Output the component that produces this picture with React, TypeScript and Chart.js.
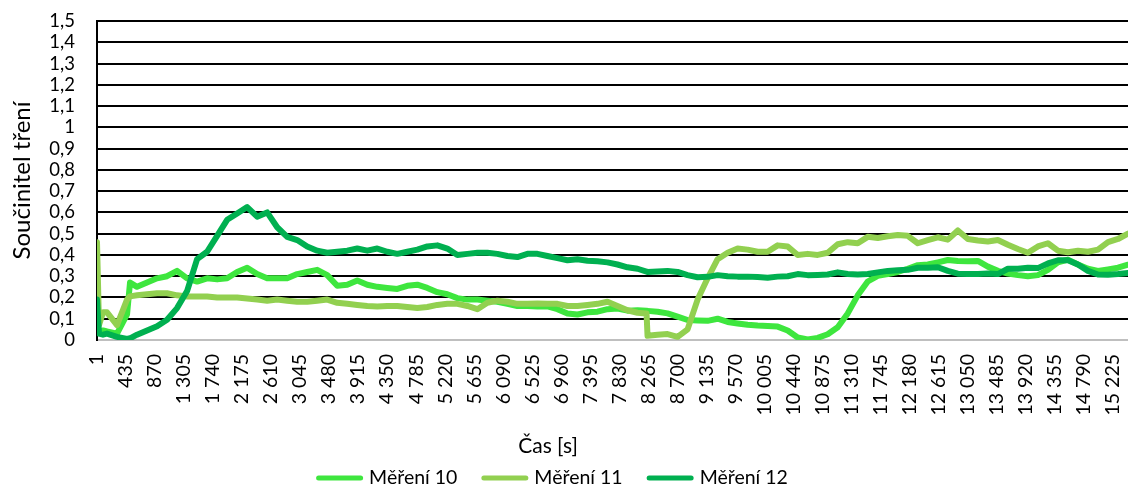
import React, { useEffect, useRef } from 'react';
import { Chart, registerables } from 'chart.js';

Chart.register(...registerables);

// ---- data ----
const timeSeconds = [
  1, 31, 91, 151, 301, 451, 496, 601, 751, 901, 1051, 1201, 1351, 1501, 1651, 1801, 1951, 2101, 2251, 2401,
  2551, 2701, 2851, 3001, 3151, 3301, 3451, 3601, 3751, 3901, 4051, 4201, 4351, 4501, 4651, 4801, 4951, 5101,
  5251, 5401, 5551, 5701, 5851, 6001, 6151, 6301, 6451, 6601, 6751, 6901, 7051, 7201, 7351, 7501, 7651, 7801,
  7951, 8101, 8236, 8251, 8401, 8551, 8701, 8851, 9001, 9151, 9301, 9451, 9601, 9751, 9901, 10051, 10201,
  10351, 10501, 10651, 10801, 10951, 11101, 11251, 11401, 11551, 11701, 11851, 12001, 12151, 12301, 12451,
  12601, 12751, 12901, 13051, 13201, 13351, 13501, 13651, 13801, 13951, 14101, 14251, 14401, 14551, 14701,
  14851, 15001, 15151, 15301, 15451,
];

const mereni10 = [
  0.04, 0.04, 0.045, 0.04, 0.03, 0.12, 0.27, 0.25, 0.27, 0.29, 0.30, 0.325, 0.29, 0.275, 0.29, 0.285, 0.29, 0.32,
  0.34, 0.31, 0.29, 0.29, 0.29, 0.31, 0.32, 0.33, 0.305, 0.255, 0.26, 0.28, 0.26, 0.25, 0.245, 0.24, 0.255, 0.26,
  0.245, 0.225, 0.215, 0.197, 0.19, 0.19, 0.185, 0.18, 0.17, 0.16, 0.16, 0.158, 0.158, 0.145, 0.125, 0.12, 0.13,
  0.133, 0.145, 0.148, 0.138, 0.14, 0.137, 0.137, 0.133, 0.125, 0.11, 0.094, 0.092, 0.09, 0.1, 0.085, 0.078,
  0.072, 0.068, 0.066, 0.063, 0.045, 0.012, 0.003, 0.01, 0.027, 0.06, 0.125, 0.21, 0.275, 0.302, 0.31, 0.32,
  0.335, 0.352, 0.355, 0.365, 0.376, 0.372, 0.37, 0.372, 0.345, 0.325, 0.312, 0.305, 0.3, 0.305, 0.33, 0.365,
  0.378, 0.355, 0.335, 0.325, 0.332, 0.34, 0.354,
];

const mereni11 = [
  0.46, 0.07, 0.13, 0.13, 0.07, 0.19, 0.205, 0.21, 0.215, 0.22, 0.22, 0.21, 0.205, 0.205, 0.205, 0.2, 0.2, 0.2,
  0.195, 0.19, 0.185, 0.19, 0.185, 0.18, 0.18, 0.185, 0.19, 0.175, 0.17, 0.165, 0.16, 0.158, 0.16, 0.16, 0.155,
  0.15, 0.155, 0.165, 0.17, 0.17, 0.16, 0.145, 0.175, 0.185, 0.18, 0.17, 0.17, 0.172, 0.17, 0.17, 0.16, 0.16,
  0.165, 0.17, 0.18, 0.16, 0.14, 0.128, 0.125, 0.02, 0.025, 0.028, 0.015, 0.05, 0.19, 0.29, 0.38, 0.41, 0.43,
  0.425, 0.415, 0.415, 0.445, 0.44, 0.4, 0.405, 0.4, 0.41, 0.45, 0.46, 0.455, 0.485, 0.48, 0.488, 0.494, 0.49,
  0.455, 0.47, 0.483, 0.472, 0.515, 0.475, 0.468, 0.463, 0.47, 0.448, 0.428, 0.41, 0.44, 0.455, 0.42, 0.413,
  0.42, 0.415, 0.425, 0.46, 0.475, 0.5,
];

const mereni12 = [
  0.19, 0.03, 0.025, 0.03, 0.015, 0.005, 0.008, 0.025, 0.045, 0.065, 0.095, 0.15, 0.23, 0.38, 0.415, 0.49, 0.565,
  0.595, 0.625, 0.58, 0.6, 0.53, 0.485, 0.47, 0.44, 0.42, 0.41, 0.415, 0.42, 0.43, 0.42, 0.43, 0.415, 0.405,
  0.415, 0.425, 0.44, 0.445, 0.43, 0.4, 0.405, 0.41, 0.41, 0.405, 0.395, 0.39, 0.405, 0.405, 0.395, 0.385, 0.375,
  0.38, 0.373, 0.37, 0.365, 0.355, 0.342, 0.335, 0.322, 0.32, 0.322, 0.325, 0.32, 0.305, 0.295, 0.297, 0.305, 0.3,
  0.298, 0.298, 0.296, 0.293, 0.298, 0.3, 0.31, 0.305, 0.306, 0.308, 0.318, 0.31, 0.308, 0.31, 0.318, 0.325, 0.328,
  0.33, 0.34, 0.34, 0.342, 0.325, 0.312, 0.31, 0.31, 0.313, 0.31, 0.335, 0.335, 0.34, 0.338, 0.36, 0.375, 0.375,
  0.355, 0.325, 0.308, 0.307, 0.31, 0.315,
];

const xTickValues = [
  1, 435, 870, 1305, 1740, 2175, 2610, 3045, 3480, 3915, 4350, 4785, 5220, 5655, 6090, 6525, 6960, 7395, 7830,
  8265, 8700, 9135, 9570, 10005, 10440, 10875, 11310, 11745, 12180, 12615, 13050, 13485, 13920, 14355, 14790, 15225,
];
const yTickValues = [0, 0.1, 0.2, 0.3, 0.4, 0.5, 0.6, 0.7, 0.8, 0.9, 1, 1.1, 1.2, 1.3, 1.4, 1.5];
const yTickLabels = ['0', '0,1', '0,2', '0,3', '0,4', '0,5', '0,6', '0,7', '0,8', '0,9', '1', '1,1', '1,2', '1,3', '1,4', '1,5'];

const seriesNames = ['Měření 10', 'Měření 11', 'Měření 12'];
const seriesColors = ['#3EE63E', '#92D050', '#00B050'];
const xAxisTitle = 'Čas [s]';
const yAxisTitle = 'Součinitel tření';

const FONT = 'Lato, "Open Sans", "DejaVu Sans", sans-serif';

const formatThousands = (v: number) => String(v).replace(/\B(?=(\d{3})+(?!\d))/g, ' ');

// draws the x title and the legend under the axis labels
const bottomTextPlugin = {
  id: 'bottomText',
  afterDraw(chart: any) {
    const ctx = chart.ctx as CanvasRenderingContext2D;
    ctx.save();
    ctx.fillStyle = '#000';
    ctx.textBaseline = 'middle';
    ctx.textAlign = 'center';
    ctx.font = `21px ${FONT}`;
    ctx.fillText(xAxisTitle, 548, 446);

    ctx.font = `19.5px ${FONT}`;
    const swatch = 47;
    const gapText = 6;
    const gapItem = 24;
    const ds = chart.data.datasets;
    const widths = ds.map((d: any) => swatch + gapText + ctx.measureText(d.label).width);
    const total = widths.reduce((a: number, b: number) => a + b, 0) + gapItem * (widths.length - 1);
    let x = 552 - total / 2;
    const y = 478;
    ds.forEach((d: any, i: number) => {
      ctx.strokeStyle = d.borderColor;
      ctx.lineWidth = 5;
      ctx.lineCap = 'round';
      ctx.beginPath();
      ctx.moveTo(x + 2.5, y);
      ctx.lineTo(x + swatch - 2.5, y);
      ctx.stroke();
      ctx.textAlign = 'left';
      ctx.fillText(d.label, x + swatch + gapText, y);
      x += widths[i] + gapItem;
    });
    ctx.restore();
  },
};

export default function App() {
  const canvasRef = useRef<HTMLCanvasElement | null>(null);

  useEffect(() => {
    if (!canvasRef.current) return;
    Chart.defaults.font.family = FONT;
    const values = [mereni10, mereni11, mereni12];
    const chart = new Chart(canvasRef.current, {
      type: 'line',
      data: {
        datasets: seriesNames.map((name, i) => ({
          label: name,
          data: timeSeconds.map((t, j) => ({ x: t, y: values[i][j] })),
          borderColor: seriesColors[i],
          backgroundColor: seriesColors[i],
          borderWidth: 6,
          pointRadius: 0,
          tension: 0,
          borderJoinStyle: 'round' as const,
          borderCapStyle: 'round' as const,
          order: 3 - i,
        })),
      },
      options: {
        animation: false,
        responsive: false,
        devicePixelRatio: 1,
        layout: { padding: { top: 21, left: 0, right: 0, bottom: 0 } },
        plugins: {
          legend: { display: false },
          tooltip: { enabled: false },
          title: { display: false },
        },
        scales: {
          x: {
            type: 'linear',
            min: 1,
            max: 15451,
            afterBuildTicks: (s: any) => {
              s.ticks = xTickValues.map((v) => ({ value: v }));
            },
            afterFit: (s: any) => {
              s.height = 148;
              s.paddingLeft = 0;
              s.paddingRight = 0;
            },
            ticks: {
              autoSkip: false,
              maxRotation: 90,
              minRotation: 90,
              padding: 14,
              color: '#000',
              font: { family: FONT, size: 19.5 },
              callback: (v: any) => formatThousands(Number(v)),
            },
            grid: { display: false, drawTicks: false },
            border: { display: true, color: '#BFBFBF', width: 2 },
          },
          y: {
            type: 'linear',
            min: 0,
            max: 1.5,
            afterBuildTicks: (s: any) => {
              s.ticks = yTickValues.map((v) => ({ value: v }));
            },
            afterFit: (s: any) => {
              s.width = 97;
              s.paddingTop = 0;
              s.paddingBottom = 0;
            },
            ticks: {
              autoSkip: false,
              padding: 22,
              color: '#000',
              font: { family: FONT, size: 18.5 },
              callback: (_v: any, i: number) => yTickLabels[i],
            },
            grid: {
              drawTicks: false,
              lineWidth: 2,
              color: (c: any) => (c.tick && c.tick.value === 0 ? 'rgba(0,0,0,0)' : '#000'),
            },
            border: { display: true, color: '#000', width: 2 },
            title: {
              display: true,
              text: yAxisTitle,
              color: '#000',
              font: { family: FONT, size: 24 },
              padding: { top: 8, bottom: 0 },
            },
          },
        },
      },
      plugins: [bottomTextPlugin],
    } as any);
    return () => chart.destroy();
  }, []);

  return (
    <div style={{ position: 'fixed', left: 0, top: 0, width: 1128, height: 488, background: '#fff' }}>
      <canvas ref={canvasRef} width={1128} height={488} />
    </div>
  );
}
